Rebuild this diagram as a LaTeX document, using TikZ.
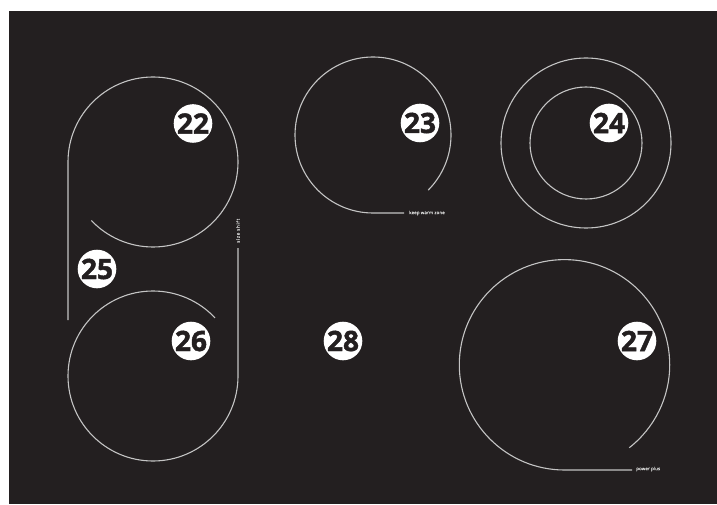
\documentclass[tikz,border=0pt]{standalone}
\usepackage{fontspec}
\setsansfont{Open Sans}
\newfontfamily\badgefont[FakeBold=1.6]{Open Sans Bold}
\newfontfamily\smallfont[FakeBold=0.3,LetterSpace=2]{Open Sans}
\newfontfamily\sidefont[FakeBold=0.3,LetterSpace=16]{Open Sans}
\definecolor{panel}{HTML}{231F20}
\definecolor{ring}{HTML}{C4C4C4}
\definecolor{smalltext}{HTML}{D8D8D8}
\tikzset{
  x=1pt,y=1pt,
  ringline/.style={draw=ring,line width=1.1pt},
  badge/.style={circle,fill=white,minimum size=38.6pt,inner sep=0pt,text=panel,font=\badgefont\fontsize{28}{28}\selectfont},
  tiny/.style={text=smalltext,inner sep=0pt,font=\smallfont\fontsize{4.5}{5}\selectfont}
}
\begin{document}
\begin{tikzpicture}
\useasboundingbox (0,0) rectangle (717,504);
\fill[white] (0,0) rectangle (717,504);
\fill[panel] (9,0) rectangle (717,493);
% zone 22 / 25
\draw[ringline] (68,184) -- (68,342) arc[start angle=180,end angle=-136.5,radius=85];
% zone 26
\draw[ringline] (238,256) -- (238,128) arc[start angle=0,end angle=-316.9,radius=85];
% zone 23
\draw[ringline] (404,291) -- (373,291) arc[start angle=270,end angle=-45,radius=78];
% zone 24
\draw[ringline] (586,361) circle[radius=85];
\draw[ringline] (586,361) circle[radius=56];
% zone 27
\draw[ringline] (632,34) -- (564.5,34) arc[start angle=270,end angle=-52,radius=105.2];
\node[badge] (b22) at (193,380.5) {22};
\node[badge] (b23) at (420,381) {23};
\node[badge] (b24) at (609,381) {24};
\node[badge] (b25) at (97,235) {25};
\node[badge] (b26) at (191,163) {26};
\node[badge] (b27) at (637,163) {27};
\node[badge] (b28) at (343,163) {28};
\node[tiny,anchor=west] (t1) at (409,291) {keep warm zone};
\node[tiny,anchor=west] (t2) at (636,35) {power plus};
\node[tiny,anchor=west,rotate=90,font=\sidefont\fontsize{4.5}{5}\selectfont] (t3) at (238,261) {size shift};
\end{tikzpicture}
\end{document}
